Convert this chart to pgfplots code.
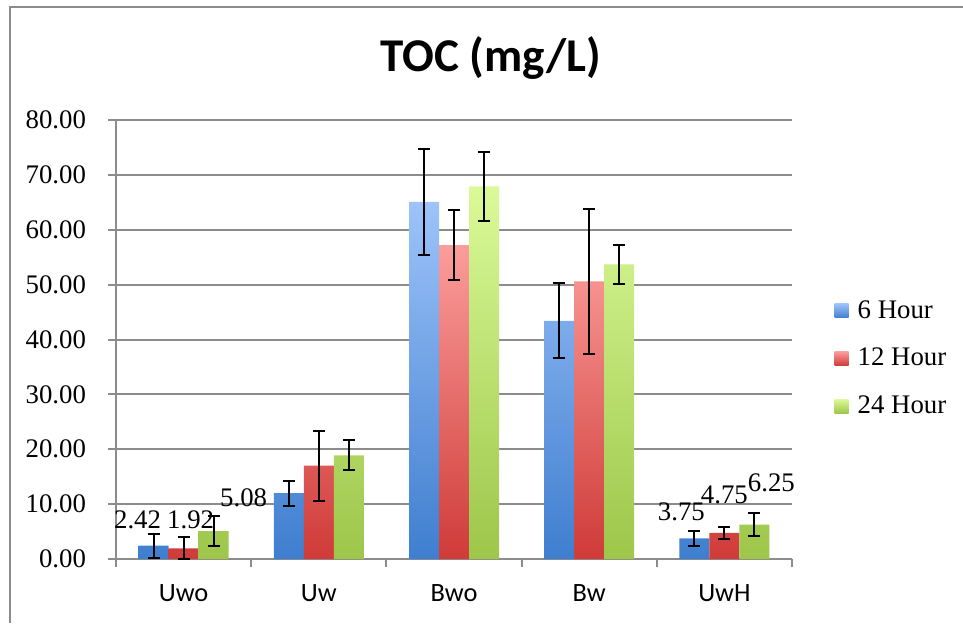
\documentclass[border=0pt]{standalone}
\usepackage{pgfplots}
\usepackage{pgfplotstable}
\pgfplotsset{compat=1.18}
\usepackage{fontspec}
\setmainfont{Liberation Serif}
\newfontfamily\carlito{Carlito}
\definecolor{gridgray}{HTML}{8C8C8C}
\definecolor{bluetop}{HTML}{9DC3FA}
\definecolor{bluebot}{HTML}{3F7ECF}
\definecolor{redtop}{HTML}{FB9D9B}
\definecolor{redbot}{HTML}{CF3B38}
\definecolor{greentop}{HTML}{DAFA98}
\definecolor{greenbot}{HTML}{9DC64A}

\pgfplotstableread{
x y err lab dx dy
0 2.42 2.2 2.42 -8 12.85
1 12.0 2.3 {} 0 0
2 65.1 9.7 {} 0 0
3 43.4 6.85 {} 0 0
4 3.75 1.35 3.75 -6.5 13.5
}\sixh
\pgfplotstableread{
x y err lab dx dy
0 1.92 2.0 1.92 3.5 14.25
1 17.0 6.4 {} 0 0
2 57.2 6.4 {} 0 0
3 50.6 13.2 {} 0 0
4 4.75 1.15 4.75 0 19
}\twelveh
\pgfplotstableread{
x y err lab dx dy
0 5.08 2.7 5.08 15 16.5
1 18.9 2.7 {} 0 0
2 67.9 6.3 {} 0 0
3 53.7 3.6 {} 0 0
4 6.25 2.1 6.25 8.5 21
}\twentyfourh

\begin{document}
\begin{tikzpicture}
\path[use as bounding box] (-58pt,-32pt) rectangle (423.5pt,279.5pt);
\draw[gridgray, line width=0.8pt] (-53pt,-32pt) -- (-53pt,276pt) -- (423.5pt,276pt);
\begin{axis}[
  at={(0pt,0pt)}, anchor=south west,
  scale only axis,
  width=338pt, height=219.5pt,
  ybar=0pt, bar width=15pt,
  xmin=-0.5, xmax=4.5, ymin=0, ymax=80,
  ytick={0,10,...,80},
  xtick={-0.5,0.5,...,4.5},
  xticklabels={},
  extra x ticks={0,1,2,3,4},
  extra x tick labels={Uwo,Uw,Bwo,Bw,UwH},
  extra x tick style={major tick length=0pt, xticklabel style={font=\carlito\fontsize{13.2}{15}\selectfont, anchor=base, yshift=-21.35pt}},
  axis x line*=bottom, axis y line*=left,
  axis line style={gridgray, line width=1pt, -},
  tick style={gridgray, line width=1pt},
  tick align=outside, major tick length=4pt,
  ymajorgrids, major grid style={gridgray, line width=1pt},
  yticklabel={\pgfmathprintnumber[fixed,fixed zerofill,precision=2,assume math mode=true]{\tick}\hspace*{7.5pt}},
  ticklabel style={font=\fontsize{13.4}{15}\selectfont},
  title={TOC (mg/L)},
  title style={at={(0.5547,1)}, anchor=base, yshift=18.2pt, font=\carlito\bfseries\fontsize{23.5}{28}\selectfont},
  legend style={at={(1.0626,0.599)}, anchor=north west, draw=none, fill=none, inner sep=0pt, row sep=9.5pt, font=\fontsize{13.4}{15}\selectfont, /tikz/every odd column/.append style={column sep=2.5pt}},
  legend cell align=left,
  legend image code/.code={\path[#1, draw=none] (0pt,-3.5pt) rectangle (7pt,3.5pt);},
  error bars/y dir=both, error bars/y explicit,
  error bars/error bar style={black, line width=1pt},
  error bars/error mark options={black, rotate=90, mark size=3pt, line width=1pt},
  nodes near coords,
  point meta=explicit symbolic,
  visualization depends on={\thisrow{dx} \as \dx},
  visualization depends on={\thisrow{dy} \as \dy},
  every node near coord/.append style={text=black, anchor=center, xshift=\dx pt, yshift=\dy pt, font=\fontsize{13.4}{15}\selectfont},
]
\addplot[draw=none, top color=bluetop, bottom color=bluebot] table[x=x, y=y, y error=err, meta=lab] {\sixh};
\addplot[draw=none, top color=redtop, bottom color=redbot] table[x=x, y=y, y error=err, meta=lab] {\twelveh};
\addplot[draw=none, top color=greentop, bottom color=greenbot] table[x=x, y=y, y error=err, meta=lab] {\twentyfourh};
\legend{6 Hour, 12 Hour, 24 Hour}
\end{axis}
\end{tikzpicture}
\end{document}
